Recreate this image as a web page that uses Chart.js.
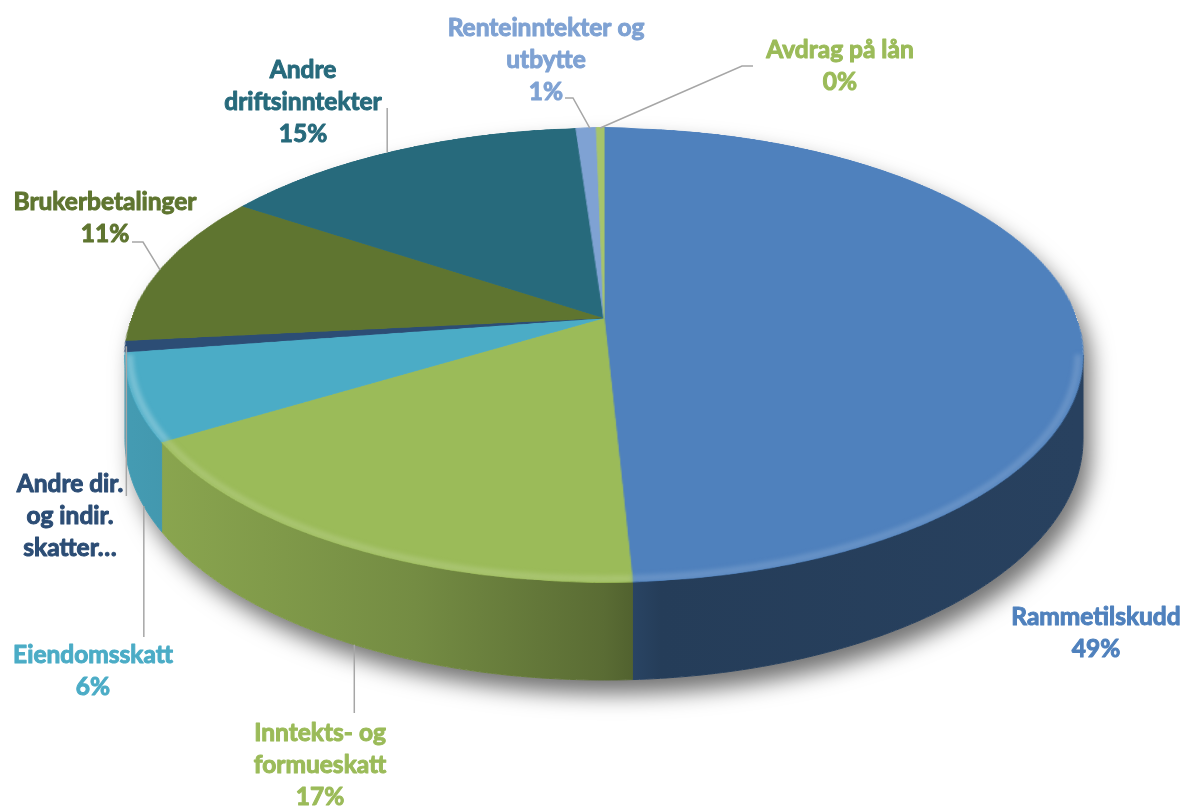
<!DOCTYPE html>
<html>
<head>
<meta charset="utf-8">
<script src="https://cdn.jsdelivr.net/npm/chart.js@4.4.1/dist/chart.umd.min.js"></script>
<style>
html,body{margin:0;padding:0;background:#fff;}
canvas{display:block;}
</style>
</head>
<body>
<canvas id="c" width="1185" height="807"></canvas>
<script>
// ---- data ----
const categories = ['Rammetilskudd','Inntekts- og formueskatt','Eiendomsskatt','Andre dir. og indir. skatter','Brukerbetalinger','Andre driftsinntekter','Renteinntekter og utbytte','Avdrag på lån'];
const values = [49.2, 17.2, 6.2, 0.8, 10.9, 14.6, 0.8, 0.3];
const labelLines = [['Rammetilskudd'],['Inntekts- og','formueskatt'],['Eiendomsskatt'],['Andre dir.','og indir.','skatter…'],['Brukerbetalinger'],['Andre','driftsinntekter'],['Renteinntekter og','utbytte'],['Avdrag på lån']];
const showPercent = [true,true,true,false,true,true,true,true];

// ---- style ----
const colors = ['#4F81BD','#9BBB59','#4BACC6','#2C4D75','#5F7530','#276A7C','#7FA2D3','#A6C46B'];
const textColors = ['#4F81BD','#9BBB59','#4BACC6','#2C4D75','#5F7530','#276A7C','#7FA2D3','#9BBB59'];
const bevelLight = [0.2,0.2,0.35,0.2,0.2,0.2,0.2,0.2];
// perspective view of the disk
const PCX = 604, PCY = 318, A = 472.6, B = 221, K = 0.163, H = 82;
const FONT = 'bold 24.5px Lato';
const LINE_H = 32;
// label layout
const layout = [
  {x:1096, y:617},
  {x:320, y:733, leader:'v', y0:713, frac:0.48, rim:'bottom', dx:0},
  {x:93, y:655, leader:'v', y0:637, frac:0.27, rim:'bottom', dx:0},
  {x:70, y:484, leader:'v', y0:496, frac:0.5, rim:'top', dx:1},
  {x:105, y:202, leader:'p', pts:[[132,242],[143,242]], frac:0.48, rim:'top'},
  {x:303, y:70, leader:'v', y0:108, frac:0.476, rim:'top', dx:0},
  {x:546, y:28, leader:'p', pts:[[565,98],[573,98]], frac:0.68, rim:'top'},
  {x:840, y:50, leader:'p', pts:[[753,66],[742,66]], frac:0.5, rim:'top'}
];

function rgb(hex){const n=parseInt(hex.slice(1),16);return [(n>>16)&255,(n>>8)&255,n&255];}
function shade(hex,f){const c=rgb(hex);return 'rgb('+c.map(v=>Math.max(0,Math.min(255,Math.round(v*f)))).join(',')+')';}
function lighten(hex,t){const c=rgb(hex);return 'rgb('+c.map(v=>Math.round(v+(255-v)*t)).join(',')+')';}

function proj(u,w,h){const d=1+K*w;return [PCX+A*u/d, PCY+(-B*w+(h||0))/d];}
function rimPt(theta,r,h){return proj(r*Math.cos(theta),-r*Math.sin(theta),h);}
function wAt(y){const d=y-PCY;return -d/(B+K*d);}
const TA = Math.asin(K); // silhouette tangent angle

function frontRange(a1,a2){
  const s=Math.max(a1,TA), e=Math.min(a2,Math.PI-TA);
  return e>s?[s,e]:null;
}

const pie3d = {
  id:'pie3d',
  afterDatasetsDraw(chart){
    const canvas = chart.canvas, ctx = chart.ctx;
    const meta = chart.getDatasetMeta(0);
    const a0 = meta.data[0];
    const ox=a0.x, oy=a0.y, R=a0.outerRadius;
    // copy the flat pie drawn by Chart.js
    const off = document.createElement('canvas');
    off.width = canvas.width; off.height = canvas.height;
    off.getContext('2d').drawImage(canvas,0,0);
    ctx.save();
    ctx.setTransform(1,0,0,1,0,0);
    ctx.clearRect(0,0,canvas.width,canvas.height);

    // soft shadow of the body silhouette
    ctx.save();
    ctx.beginPath();
    const N=180;
    for(let i=0;i<=N;i++){
      const t = (Math.PI - TA) + (Math.PI + 2*TA)*i/N;
      const p = rimPt(t,1,0);
      i?ctx.lineTo(p[0],p[1]):ctx.moveTo(p[0],p[1]);
    }
    for(let i=0;i<=N;i++){
      const t = TA + (Math.PI - 2*TA)*i/N;
      const p = rimPt(t,1,H);
      ctx.lineTo(p[0],p[1]);
    }
    ctx.closePath();
    ctx.shadowColor='rgba(0,0,0,0.55)';
    ctx.shadowBlur=22;
    ctx.shadowOffsetX=8;
    ctx.shadowOffsetY=14;
    ctx.fillStyle='#ffffff';
    ctx.fill();
    ctx.restore();

    // side walls
    meta.data.forEach((arc,i)=>{
      const r = frontRange(arc.startAngle, arc.endAngle);
      if(!r) return;
      const g = ctx.createLinearGradient(PCX-A,0,PCX+A,0);
      const c = colors[i];
      g.addColorStop(0, shade(c,0.9));
      g.addColorStop(0.3, shade(c,0.75));
      g.addColorStop(0.5, shade(c,0.58));
      g.addColorStop(0.56, shade(c,0.47));
      g.addColorStop(1, shade(c,0.5));
      const n = Math.max(2, Math.ceil((r[1]-r[0])*80));
      ctx.beginPath();
      for(let k=0;k<=n;k++){const p=rimPt(r[0]+(r[1]-r[0])*k/n,1,0); k?ctx.lineTo(p[0],p[1]):ctx.moveTo(p[0],p[1]);}
      for(let k=n;k>=0;k--){const p=rimPt(r[0]+(r[1]-r[0])*k/n,1,H); ctx.lineTo(p[0],p[1]);}
      ctx.closePath();
      ctx.fillStyle=g; ctx.fill();
      ctx.strokeStyle=g; ctx.lineWidth=1; ctx.stroke();
    });

    // top face: perspective warp of the Chart.js pie, row by row
    ctx.imageSmoothingEnabled = true;
    const yTop = PCY - B/(1+K), yBot = PCY + B/(1-K);
    for(let y=Math.floor(yTop); y<Math.ceil(yBot); y++){
      const w1 = Math.min(1,Math.max(-1,wAt(y))), w2 = Math.min(1,Math.max(-1,wAt(y+1)));
      const sy1 = oy - w1*R, sy2 = oy - w2*R;
      if(sy2-sy1<=0) continue;
      const wm = wAt(y+0.5);
      const half = A/(1+K*wm);
      ctx.drawImage(off, ox-R, sy1, 2*R, sy2-sy1, PCX-half, y, 2*half, 1);
    }

    // bevel highlight along the front rim
    ctx.save();
    ctx.beginPath();
    for(let i=0;i<=360;i++){const p=rimPt(i*Math.PI/180,1,0); i?ctx.lineTo(p[0],p[1]):ctx.moveTo(p[0],p[1]);}
    ctx.closePath();
    ctx.clip();
    ctx.filter='blur(2px)';
    meta.data.forEach((arc,i)=>{
      const r = frontRange(arc.startAngle, arc.endAngle);
      if(!r) return;
      const n = Math.max(2, Math.ceil((r[1]-r[0])*80));
      ctx.beginPath();
      for(let k=0;k<=n;k++){const p=rimPt(r[0]+(r[1]-r[0])*k/n,0.99,0); k?ctx.lineTo(p[0],p[1]):ctx.moveTo(p[0],p[1]);}
      ctx.strokeStyle=lighten(colors[i],bevelLight[i]);
      ctx.globalAlpha=0.7;
      ctx.lineWidth=7;
      ctx.stroke();
    });
    ctx.restore();
    ctx.restore();
  },
  afterDraw(chart){
    const ctx = chart.ctx;
    const meta = chart.getDatasetMeta(0);
    const total = values.reduce((a,b)=>a+b,0);
    ctx.save();
    ctx.strokeStyle='#A6A6A6';
    ctx.lineWidth=1.5;
    meta.data.forEach((arc,i)=>{
      const L = layout[i];
      if(!L.leader) return;
      const t = arc.startAngle + (arc.endAngle-arc.startAngle)*L.frac;
      const p = rimPt(t,1,L.rim==='bottom'?H:0);
      ctx.beginPath();
      if(L.leader==='v'){
        ctx.moveTo(p[0]+L.dx,L.y0);
        ctx.lineTo(p[0]+L.dx,p[1]);
      } else {
        ctx.moveTo(L.pts[0][0],L.pts[0][1]);
        for(let k=1;k<L.pts.length;k++) ctx.lineTo(L.pts[k][0],L.pts[k][1]);
        ctx.lineTo(p[0],p[1]);
      }
      ctx.stroke();
    });
    ctx.font=FONT;
    ctx.textAlign='center';
    ctx.textBaseline='middle';
    ctx.lineWidth=1;
    ctx.lineJoin='round';
    meta.data.forEach((arc,i)=>{
      const L = layout[i];
      const lines = labelLines[i].slice();
      if(showPercent[i]) lines.push(Math.round(values[i]/total*100)+'%');
      ctx.fillStyle=textColors[i];
      ctx.strokeStyle=textColors[i];
      lines.forEach((s,k)=>{ctx.fillText(s,L.x,L.y+k*LINE_H);ctx.strokeText(s,L.x,L.y+k*LINE_H);});
    });
    ctx.restore();
  }
};

new Chart(document.getElementById('c'),{
  type:'pie',
  data:{labels:categories,datasets:[{data:values,backgroundColor:colors,borderColor:colors,borderWidth:1}]},
  options:{
    responsive:false,
    animation:false,
    devicePixelRatio:1,
    events:[],
    layout:{padding:0},
    plugins:{legend:{display:false},tooltip:{enabled:false}}
  },
  plugins:[pie3d]
});
</script>
</body>
</html>
